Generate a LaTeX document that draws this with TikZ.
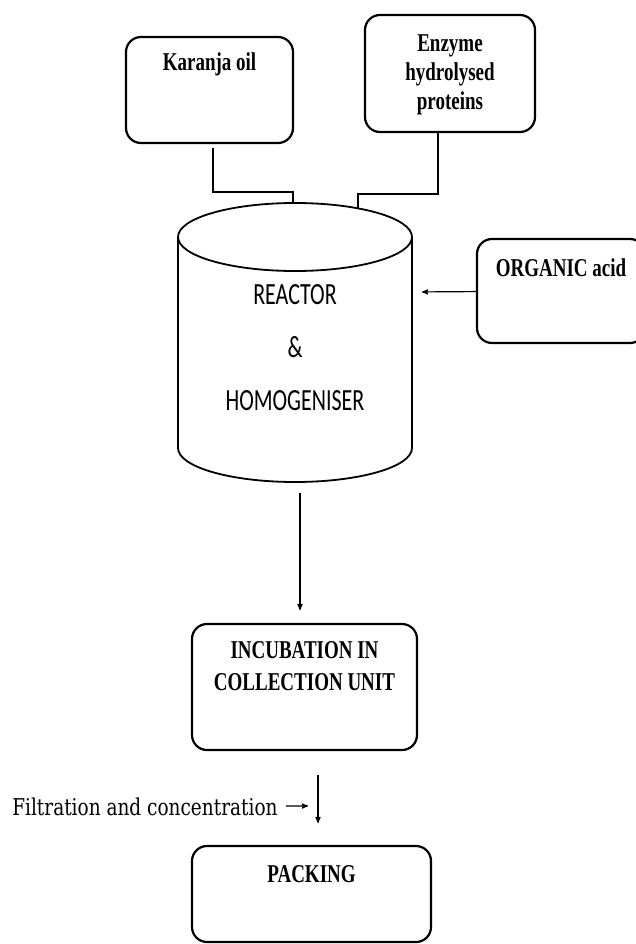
\documentclass[tikz,border=0pt]{standalone}
\usepackage{fontspec}
\setmainfont{Liberation Serif}
\newfontfamily\calfont{Carlito}
\newfontfamily\filtfont{DejaVu Serif}
\usetikzlibrary{arrows}
\newcommand\tallbox[1]{\scalebox{1}[1.35]{#1}}

\begin{document}
\begin{tikzpicture}[x=1pt, y=1pt, >=stealth', semithick,
  box/.style={draw, rounded corners=15pt, line width=2.2pt, inner sep=0pt, outer sep=0pt,
    align=center, font=\fontsize{19}{23}\selectfont\bfseries},
  link/.style={line width=1.2pt},
  vessel/.style={line width=1.8pt}]

\useasboundingbox (0,0) rectangle (635,-944);

\node[box, minimum width=167pt, text height=34pt, text depth=72pt, anchor=north] (kar) at (209.5,-37) {\tallbox{Karanja oil}};
\node[box, minimum width=170pt, text height=95pt, text depth=22pt, anchor=north] (enz) at (450,-15) {\tallbox{Enzyme}\\[5pt]\tallbox{hydrolysed}\\[5pt]\tallbox{proteins}};
\node[box, minimum width=168pt, text height=37pt, text depth=67pt, anchor=north] (org) at (561,-239) {\tallbox{ORGANIC acid}};

% reactor vessel
\draw[vessel] (295,-237) ellipse [x radius=117, y radius=34];
\draw[vessel] (178,-237) -- (178,-448) arc [start angle=180, end angle=360, x radius=117, y radius=34] -- (412,-237);
\node[font=\calfont\fontsize{22}{26}\selectfont, align=center, anchor=base] (reac) at (295,-410)
  {\scalebox{1}[1.4]{REACTOR}\\[27pt]\scalebox{1}[1.4]{\&}\\[27pt]\scalebox{1}[1.4]{HOMOGENISER}};
\coordinate (reac in1) at (293,-203);
\coordinate (reac in2) at (358,-208);
\coordinate (reac side) at (412,-292);
\coordinate (reac out) at (300,-482);

\node[box, minimum width=225pt, text height=66pt, text depth=60pt, anchor=north] (inc) at (304.5,-624) {\tallbox{INCUBATION IN}\\[9pt]\tallbox{COLLECTION UNIT}};
\node[box, minimum width=239pt, text height=36pt, text depth=60pt, anchor=north] (pack) at (311.5,-846) {\tallbox{PACKING}};

\node[font=\filtfont\fontsize{18.5}{22}\selectfont, anchor=base west, inner sep=0pt] (filt) at (12,-815) {\scalebox{1}[1.25]{Filtration and concentration}};
\coordinate (filt tip) at (308,-806);
\coordinate (sep top) at (318,-775);
\coordinate (sep bot) at (318,-823);

\draw[link] ([xshift=3.5pt, yshift=-5pt]kar.south) -- ++(0,-44) -| (reac in1);
\draw[link] ([xshift=-12pt]enz.south) -- ++(0,-62) -| (reac in2);

\path[link] (org) edge[->, shorten >=10pt] (reac side)
      (reac out) edge[->, shorten <=11pt, shorten >=14pt] (reac out |- inc.north)
      (filt) edge[->, shorten <=8pt] (filt tip)
      (sep top) edge[->] (sep bot);

\end{tikzpicture}
\end{document}
